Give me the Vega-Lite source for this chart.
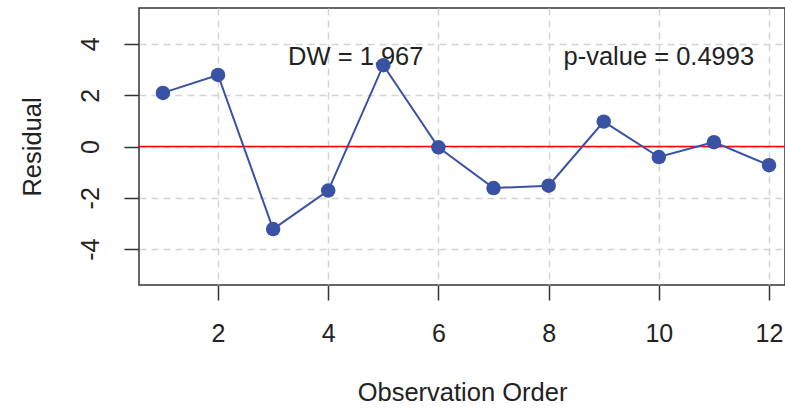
{
  "$schema": "https://vega.github.io/schema/vega-lite/v6.json",
  "autosize": "none",
  "width": 646,
  "height": 277,
  "padding": {"left": 139, "top": 8, "right": 0, "bottom": 124},
  "background": "white",
  "config": {
    "font": "Liberation Sans",
    "view": {"stroke": "#333333", "strokeWidth": 1.5},
    "axis": {
      "labelFont": "Liberation Sans",
      "titleFont": "Liberation Sans",
      "labelFontSize": 25,
      "titleFontSize": 25.5,
      "titleFontWeight": "normal",
      "labelColor": "#222222",
      "titleColor": "#222222",
      "tickColor": "#333333",
      "tickWidth": 1.5,
      "tickSize": 15,
      "domain": false,
      "grid": true,
      "gridColor": "#d4d4d4",
      "gridWidth": 1.5,
      "gridDash": [7, 5],
      "labelExpr": "'' + datum.value"
    }
  },
  "datasets": {
    "residuals": [
      {"order": 1, "residual": 2.09},
      {"order": 2, "residual": 2.79},
      {"order": 3, "residual": -3.22},
      {"order": 4, "residual": -1.72},
      {"order": 5, "residual": 3.17},
      {"order": 6, "residual": -0.03},
      {"order": 7, "residual": -1.62},
      {"order": 8, "residual": -1.53},
      {"order": 9, "residual": 0.97},
      {"order": 10, "residual": -0.41},
      {"order": 11, "residual": 0.17},
      {"order": 12, "residual": -0.73}
    ],
    "notes": [
      {"order": 4.5, "residual": 3.5, "label": "DW = 1.967"},
      {"order": 10, "residual": 3.5, "label": "p-value = 0.4993"}
    ]
  },
  "layer": [
    {
      "data": {"values": [{"zero": 0}]},
      "mark": {"type": "rule", "color": "#ff0000", "strokeWidth": 1.5},
      "encoding": {
        "y": {"field": "zero", "type": "quantitative", "scale": {"domain": [-5.4, 5.4], "nice": false, "zero": false}}
      }
    },
    {
      "data": {"name": "notes"},
      "mark": {"type": "text", "font": "Liberation Sans", "fontSize": 25.5, "color": "#222222", "align": "center", "baseline": "middle"},
      "encoding": {
        "x": {
          "field": "order", "type": "quantitative",
          "scale": {"domain": [0.566, 12.29], "nice": false, "zero": false},
          "axis": {"values": [2, 4, 6, 8, 10, 12], "title": "Observation Order", "labelPadding": 21, "titlePadding": 34}
        },
        "y": {
          "field": "residual", "type": "quantitative",
          "scale": {"domain": [-5.4, 5.4], "nice": false, "zero": false},
          "axis": {"values": [-4, -2, 0, 2, 4], "title": "Residual", "labelAngle": -90, "labelAlign": "center", "labelBaseline": "bottom", "labelPadding": 21, "titlePadding": 33}
        },
        "text": {"field": "label"}
      }
    },
    {
      "data": {"name": "residuals"},
      "mark": {"type": "line", "color": "#3a52a4", "strokeWidth": 2},
      "encoding": {
        "x": {"field": "order", "type": "quantitative"},
        "y": {"field": "residual", "type": "quantitative"}
      }
    },
    {
      "data": {"name": "residuals"},
      "mark": {"type": "point", "filled": true, "opacity": 1, "color": "#3a52a4", "size": 210},
      "encoding": {
        "x": {"field": "order", "type": "quantitative"},
        "y": {"field": "residual", "type": "quantitative"}
      }
    }
  ]
}
